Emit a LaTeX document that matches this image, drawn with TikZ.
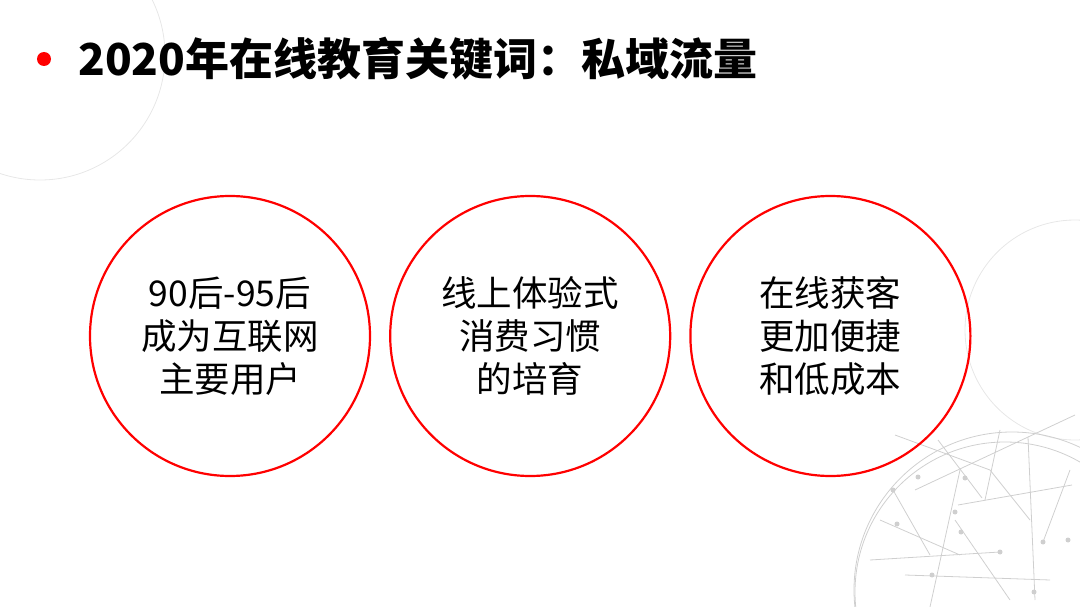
\documentclass[tikz,border=0pt]{standalone}
\usepackage{fontspec}
\usepackage{tikz}
\usetikzlibrary{positioning}
\newfontfamily\cjk{Noto Sans CJK SC}
\definecolor{mainc}{HTML}{FF0000}
\definecolor{netc}{HTML}{CFCFCF}
\tikzset{
  ring/.style={circle,draw=mainc,line width=2.2pt,minimum size=280pt,inner sep=0pt,align=center,font=\cjk\fontsize{35.5}{43}\selectfont},
  net/.style={netc,line width=0.8pt},
  dot/.style={circle,fill=netc,inner sep=0pt,minimum size=5pt}
}
\begin{document}
\begin{tikzpicture}[x=1pt,y=-1pt]
\useasboundingbox (0,0) rectangle (1080,607);
% faint globes in the background
\draw[net] (1012,590) circle (158);
\draw[net] (1005,592) circle (150);
\draw[net,opacity=0.5] (1075,330) circle (110);
\draw[net,opacity=0.5] (40,55) circle (125);
\foreach \a/\b in {{895,435}/{990,470},{990,470}/{1030,520},{958,505}/{1072,485},{880,520}/{960,555},{905,575}/{1050,580},{1028,437}/{1035,600},{960,470}/{930,607},{1000,430}/{985,500},{915,490}/{1075,415},{938,440}/{982,498},{955,520}/{1010,600},{893,490}/{930,555},{1043,542}/{1070,470},{870,560}/{1000,552}}
  \draw[net] (\a) -- (\b);
\foreach \p in {{893,490},{897,524},{961,532},{1000,552},{1034,592},{1043,542},{932,575},{955,512},{918,477},{1068,540},{965,478}}
  \node[dot] at (\p) {};
% title
\node[circle,fill=mainc,minimum size=14pt,inner sep=0pt] (bullet) at (44,59) {};
\node[right=27pt of bullet,inner sep=0pt,font=\cjk\bfseries\fontsize{44}{50}\selectfont] (title) {2020年在线教育关键词：私域流量};
% the three circles
\node[ring] (users) at (230,336) {90后-95后\\成为互联网\\主要用户};
\node[ring,right=18pt of users] (habit) {线上体验式\\消费习惯\\的培育};
\node[ring,right=18pt of habit] (cost) {在线获客\\更加便捷\\和低成本};
\end{tikzpicture}
\end{document}
